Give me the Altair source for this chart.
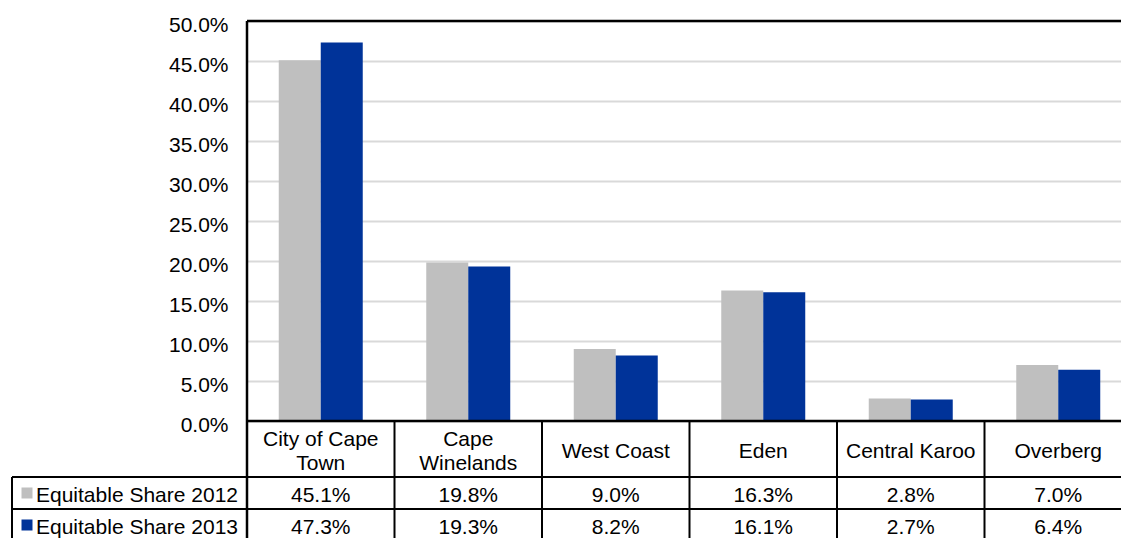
import altair as alt
import pandas as pd

# Equitable share by district, 2012 vs 2013 (percent of provincial total)
categories = ["City of Cape Town", "Cape Winelands", "West Coast", "Eden", "Central Karoo", "Overberg"]
header_text = ["City of Cape\nTown", "Cape\nWinelands", "West Coast", "Eden", "Central Karoo", "Overberg"]
series = ["Equitable Share 2012", "Equitable Share 2013"]
share_2012 = [45.1, 19.8, 9.0, 16.3, 2.8, 7.0]
share_2013 = [47.3, 19.3, 8.2, 16.1, 2.7, 6.4]
tick_percent = [0, 5, 10, 15, 20, 25, 30, 35, 40, 45, 50]
series_colors = ["#BFBFBF", "#003399"]

FONT = "Liberation Sans"
FONT_SIZE = 21
LINE_HEIGHT = 24

records = []
for name, values in zip(series, [share_2012, share_2013]):
    for cat, v in zip(categories, values):
        records.append({"category": cat, "series": name, "value": v / 100, "label": f"{v:.1f}%"})
shares = pd.DataFrame(records)
headers = pd.DataFrame({
    "category": categories,
    "header": header_text,
    "lines": [h.count("\n") + 1 for h in header_text],
})
cats = pd.DataFrame({"category": categories})
rows = pd.DataFrame({"series": series})
baseline = pd.DataFrame({"value": [0.0]})

# layout of the plot area and the data table underneath it
VIEW_W, VIEW_H = 874, 517
TABLE_W = 885
BAR_H = 400
HEADER_MID = 428
ROW_TOP, ROW_BOTTOM = 456, 520
LEGEND_LEFT = -235

xscale = alt.Scale(type="band", domain=categories, range=[0, TABLE_W], paddingInner=0, paddingOuter=0)
yscale = alt.Scale(type="linear", domain=[0, 0.5], range=[BAR_H, 0], nice=False)
rowscale = alt.Scale(type="band", domain=series, range=[ROW_TOP, ROW_BOTTOM], paddingInner=0, paddingOuter=0)
colorscale = alt.Scale(domain=series, range=series_colors)

x_cat = alt.X("category:N", scale=xscale, axis=None)
y_row = alt.Y("series:N", scale=rowscale, axis=None)

y_axis = alt.Axis(
    values=[t / 100 for t in tick_percent],
    format=".1%",
    title=None,
    grid=True,
    gridColor="#D9D9D9",
    gridWidth=2,
    domain=False,
    ticks=False,
    labelFont=FONT,
    labelFontSize=FONT_SIZE,
    labelColor="#000000",
    labelPadding=19,
    labelOffset=4,
)

bars = alt.Chart(shares).mark_bar().encode(
    x=x_cat,
    xOffset=alt.XOffset("series:N", scale=alt.Scale(domain=series, paddingInner=0, paddingOuter=0.756)),
    y=alt.Y("value:Q", scale=yscale, axis=y_axis),
    color=alt.Color("series:N", scale=colorscale, legend=None),
)

# x axis line at 0%
zero_line = alt.Chart(baseline).mark_rule(color="black", strokeWidth=2.5).encode(
    y=alt.Y("value:Q", scale=yscale, axis=None),
    x=alt.value(0),
    x2=alt.value("width"),
)

frame_top = alt.Chart(baseline).mark_rule(color="black", strokeWidth=2.5).encode(
    y=alt.value(0), x=alt.value(0), x2=alt.value("width")
)
frame_left = alt.Chart(baseline).mark_rule(color="black", strokeWidth=2.5).encode(
    x=alt.value(0), y=alt.value(0), y2=alt.value("height")
)

# table grid: column separators, row lines and the legend column border
col_lines = alt.Chart(cats).mark_rule(color="black", strokeWidth=2).encode(
    x=alt.X("category:N", scale=xscale, axis=None, bandPosition=0),
    y=alt.value(BAR_H),
    y2=alt.value("height"),
)
row_lines = alt.Chart(rows).mark_rule(color="black", strokeWidth=2).encode(
    y=alt.Y("series:N", scale=rowscale, axis=None, bandPosition=0),
    x=alt.value(LEGEND_LEFT),
    x2=alt.value("width"),
)
legend_border = alt.Chart(baseline).mark_rule(color="black", strokeWidth=2).encode(
    x=alt.value(LEGEND_LEFT), y=alt.value(ROW_TOP), y2=alt.value("height")
)

# category names in the table header; two-line names are lifted by half a line
header_one_line = alt.Chart(headers).transform_filter("datum.lines == 1").mark_text(
    font=FONT, fontSize=FONT_SIZE, color="black", baseline="middle", dy=3,
).encode(x=x_cat, y=alt.value(HEADER_MID), text="header:N")

header_two_lines = alt.Chart(headers).transform_filter("datum.lines == 2").mark_text(
    font=FONT, fontSize=FONT_SIZE, color="black", lineBreak="\n", lineHeight=LINE_HEIGHT,
    baseline="middle", dy=3 - LINE_HEIGHT / 2,
).encode(x=x_cat, y=alt.value(HEADER_MID), text="header:N")

cell_labels = alt.Chart(shares).mark_text(
    font=FONT, fontSize=FONT_SIZE, color="black", baseline="middle", dy=3,
).encode(x=x_cat, y=y_row, text="label:N")

legend_keys = alt.Chart(rows).mark_square(size=121, opacity=1).encode(
    x=alt.value(LEGEND_LEFT + 15),
    y=y_row,
    color=alt.Color("series:N", scale=colorscale, legend=None),
)
legend_labels = alt.Chart(rows).mark_text(
    font=FONT, fontSize=FONT_SIZE, color="black", align="left", baseline="middle", dy=3,
).encode(x=alt.value(LEGEND_LEFT + 24), y=y_row, text="series:N")

chart = (
    alt.layer(
        bars, zero_line, frame_top, frame_left, col_lines, row_lines, legend_border,
        header_one_line, header_two_lines, cell_labels, legend_keys, legend_labels,
    )
    .resolve_scale(y="independent")
    .properties(
        width=VIEW_W,
        height=VIEW_H,
        autosize=alt.AutoSizeParams(type="none"),
        padding={"left": 247, "top": 21, "right": 0, "bottom": 0},
    )
    .configure_view(strokeWidth=0)
)

chart.save("out.html", embed_options={"renderer": "svg", "actions": False})
